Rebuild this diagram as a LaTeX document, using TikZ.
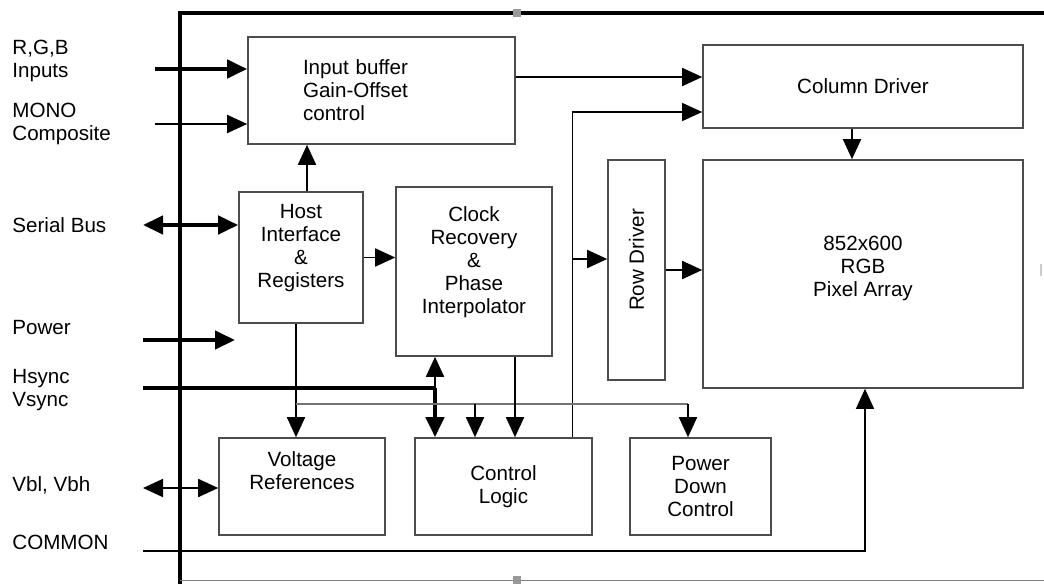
\documentclass[tikz,border=0pt]{standalone}
\usepackage{fontspec}
\setmainfont{Liberation Sans}
\usetikzlibrary{positioning,arrows.meta}
\tikzstyle{block} = [draw=black!70, line width=0.8pt, rectangle, align=center, inner sep=0pt]
\tikzstyle{pin} = [anchor=west, align=left, inner sep=0pt]
\tikzstyle{bus} = [line width=2.2pt]
\tikzstyle{sig} = [line width=0.9pt]
\tikzstyle{wire} = [line width=0.6pt]
\tikzstyle{handle} = [fill=black!40, minimum size=4pt, inner sep=0pt]

\begin{document}
\begin{tikzpicture}[x=0.5pt,y=-0.5pt,>={Triangle[length=10pt,width=9pt]},font=\fontsize{10.3}{11.5}\selectfont]
		\useasboundingbox (0,0) rectangle (1044,584);
		% chip outline
		\draw[line width=2pt] (180,584) -- (180,13) -- (1044,13);
		\draw[black!50, line width=0.5pt] (180,580) -- (1044,580);
		\node[handle] (htop) at (517,13) {};
		\node[handle] (hbot) at (517,580) {};
		\node[handle, minimum width=1pt, minimum height=6pt, fill=black!20] (hright) at (1041,270) {};

		% pins
		\node[pin] (rgb) at (12,61) {R,G,B\\Inputs};
		\node[pin] (mono) at (12,124) {MONO\\Composite};
		\node[pin] (sbus) at (12,225) {Serial Bus};
		\node[pin] (power) at (12,328) {Power};
		\node[pin] (sync) at (12,390) {Hsync\\Vsync};
		\node[pin] (vb) at (12,485) {Vbl, Vbh};
		\node[pin] (common) at (12,542) {COMMON};

		% blocks
		\node[block, minimum width=133.5pt, minimum height=53.5pt, align=left, text width=78.5pt, inner xsep=27.5pt] (inbuf) at (381.5,90.5) {Input buffer\\Gain-Offset\\control};
		\node[block, minimum width=160pt, minimum height=41.5pt] (coldrv) at (863,86.5) {Column Driver};
		\node[block, minimum width=160pt, minimum height=114pt] (pixarr) at (863,274) {852x600\\RGB\\Pixel Array\\[-4pt]\mbox{}};
		\node[block, minimum width=28.5pt, minimum height=110pt] (rowdrv) at (636.5,270) {\rotatebox{90}{\hspace{10pt}Row Driver}};
		\node[block, minimum width=62pt, minimum height=65.5pt] (host) at (301,257.5) {Host\\Interface\\\&\\Registers\\\mbox{}};
		\node[block, minimum width=78pt, minimum height=84.5pt] (clock) at (474,271.5) {Clock\\Recovery\\\&\\Phase\\Interpolator\\\mbox{}};
		\node[block, minimum width=83pt, minimum height=48.5pt] (vref) at (302,486.5) {Voltage\\References\\[4pt]\mbox{}};
		\node[block, minimum width=88.5pt, minimum height=48.5pt] (ctrl) at (503.5,486.5) {Control\\Logic};
		\node[block, minimum width=70.5pt, minimum height=48.5pt] (pdown) at (700.5,486.5) {Power\\Down\\Control};

		% junctions and free ends
		\coordinate (rgbin) at (155,69);
		\coordinate (monoin) at (155,124);
		\coordinate (sbusin) at (143,225);
		\coordinate (powin) at (143,340);
		\coordinate (powend) at (235,340);
		\coordinate (syncin) at (143,388);
		\coordinate (syncj) at (435,388);
		\coordinate (vbin) at (143,488);
		\coordinate (comin) at (143,551);
		\coordinate (hostj) at (296,404);
		\coordinate (ctrlj) at (475,404);
		\coordinate (pdj) at (688,404);
		\coordinate (rowj) at (572,259);

		% inputs
		\draw[bus,->] (rgbin) -- (rgbin -| inbuf.west);
		\draw[sig,->] (monoin) -- (monoin -| inbuf.west);
		\draw[bus,<->] (sbusin) -- (sbusin -| host.west);
		\draw[bus,->] (powin) -- (powend);
		\draw[bus] (syncin) -- (syncj);
		\draw[sig,->] (syncj) -- (syncj |- clock.south);
		\draw[bus,->] (syncj) -- (syncj |- ctrl.north);
		\draw[sig,<->] (vbin) -- (vbin -| vref.west);
		\draw[wire,->] (comin) -| ([xshift=1pt]pixarr.south);

		% internal paths
		\draw[sig,->] ([yshift=6.75pt]inbuf.east) -- ([yshift=6.75pt]inbuf.east -| coldrv.west);
		\draw[sig,->] ([xshift=-5.5pt]coldrv.south) -- ([xshift=-5.5pt]pixarr.north);
		\draw[sig,->] ([xshift=3pt]host.north) -- ([xshift=3pt]host.north |- inbuf.south);
		\draw[sig,->] (host.east) -- (host.east -| clock.west);
		\draw[sig,->] (rowdrv.east) -- (rowdrv.east -| pixarr.west);
		\draw[wire,->] ([xshift=-10pt]ctrl.north east) |- ([yshift=-12.75pt]coldrv.west);
		\draw[sig,->] (rowj) -- (rowj -| rowdrv.west);
		\draw[sig,->] ([xshift=-2.5pt]host.south) -- ([xshift=-2.5pt]host.south |- vref.north);
		\draw[black!55, line width=1pt] (hostj) -- (pdj);
		\draw[sig,->] (ctrlj) -- (ctrlj |- ctrl.north);
		\draw[sig,->] (pdj) -- (pdj |- pdown.north);
		\draw[sig,->] ([xshift=20.5pt]clock.south) -- ([xshift=20.5pt]clock.south |- ctrl.north);
	\end{tikzpicture}
\end{document}
